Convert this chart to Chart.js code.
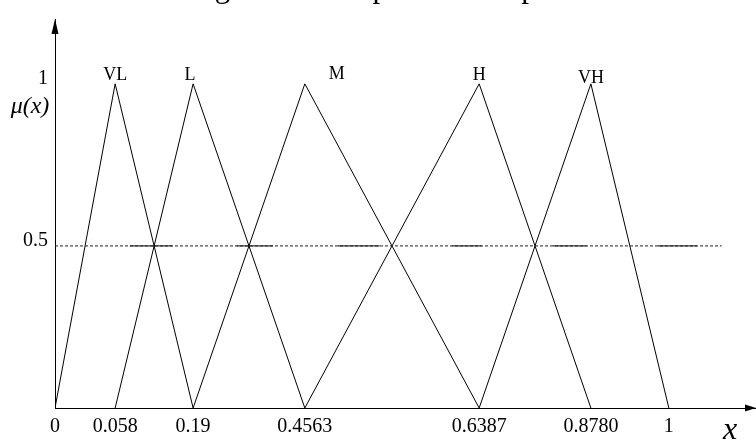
<!DOCTYPE html>
<html>
<head>
<meta charset="utf-8">
<script src="https://cdn.jsdelivr.net/npm/chart.js@4/dist/chart.umd.min.js"></script>
<style>
  html, body { margin: 0; padding: 0; background: #fff; }
  #chart { display: block; }
</style>
</head>
<body>
<canvas id="chart" width="756" height="441"></canvas>
<script>
// --- data ---
// axis units: tick positions along x (the printed axis is not to scale)
const xTickPos = [0, 0.098, 0.225, 0.407, 0.691, 0.873, 1];
const xTickLabels = ['0', '0.058', '0.19', '0.4563', '0.6387', '0.8780', '1'];
const yTickVals = [0.5, 1];

const setNames = ['VL', 'L', 'M', 'H', 'VH'];
const setLeft  = [0,     0.098, 0.225, 0.407, 0.691];
const setPeak  = [0.098, 0.225, 0.407, 0.691, 0.873];
const setRight = [0.225, 0.407, 0.691, 0.873, 1];

const halfLevel = 0.5;
const halfLineEnd = 1.086;
// short solid pieces laid over the dashed 0.5 line
const solidPieces = [[0.122, 0.191], [0.296, 0.355], [0.461, 0.529], [0.647, 0.695], [0.811, 0.866], [0.982, 1.046]];

const SERIF = "'Liberation Serif', 'Times New Roman', serif";

// --- datasets ---
const triangles = setNames.map((name, i) => ({
    label: name,
    data: [
        { x: setLeft[i], y: 0 },
        { x: setPeak[i], y: 1 },
        { x: setRight[i], y: 0 }
    ],
    borderColor: '#000',
    borderWidth: 1,
    pointRadius: 0,
    tension: 0,
    fill: false
}));

const dashedHalf = {
    label: 'half',
    data: [{ x: 0, y: halfLevel }, { x: halfLineEnd, y: halfLevel }],
    borderColor: '#222',
    borderWidth: 1,
    borderDash: [3, 2],
    pointRadius: 0,
    fill: false
};

const solidHalf = {
    label: 'halfSolid',
    data: solidPieces.flatMap(p => [{ x: p[0], y: halfLevel }, { x: p[1], y: halfLevel }, { x: p[1], y: null }]),
    borderColor: '#000',
    borderWidth: 1,
    pointRadius: 0,
    spanGaps: false,
    fill: false
};

// --- extra drawing: arrows, set names, axis symbols, cut title ---
const decorPlugin = {
    id: 'decor',
    afterDraw(chart) {
        const { ctx, chartArea, scales } = chart;
        const xs = scales.x, ys = scales.y;
        ctx.save();
        ctx.fillStyle = '#000';

        // arrow on y axis
        const ax = chartArea.left;
        ctx.beginPath();
        ctx.moveTo(ax, chartArea.top);
        ctx.lineTo(ax - 3.5, chartArea.top + 15);
        ctx.lineTo(ax + 3.5, chartArea.top + 15);
        ctx.closePath();
        ctx.fill();

        // arrow on x axis
        const ay = chartArea.bottom;
        ctx.beginPath();
        ctx.moveTo(chartArea.right, ay);
        ctx.lineTo(chartArea.right - 11, ay - 3.5);
        ctx.lineTo(chartArea.right - 11, ay + 3.5);
        ctx.closePath();
        ctx.fill();

        // set names above the peaks
        const nudge = { VL: [0, -4], L: [-3, -4], M: [32, -5], H: [0, -4], VH: [0, -1] };
        ctx.font = '18px ' + SERIF;
        ctx.textAlign = 'center';
        ctx.textBaseline = 'alphabetic';
        setNames.forEach((name, i) => {
            const px = xs.getPixelForValue(setPeak[i]);
            const py = ys.getPixelForValue(1);
            ctx.fillText(name, px + nudge[name][0], py + nudge[name][1]);
        });

        // mu(x)
        ctx.font = 'italic 24px ' + SERIF;
        ctx.textAlign = 'center';
        ctx.textBaseline = 'middle';
        ctx.fillText('\u03BC(x)', 30, 107);

        // x symbol
        ctx.font = 'italic 32px ' + SERIF;
        ctx.fillText('x', 730, 431);

        // caption cut by the top edge
        ctx.font = '31px ' + SERIF;
        ctx.textAlign = 'left';
        ctx.textBaseline = 'alphabetic';
        ctx.fillText('Figure 3 The optimization process', 189, -3);

        ctx.restore();
    }
};

new Chart(document.getElementById('chart'), {
    type: 'line',
    data: { datasets: [dashedHalf, solidHalf, ...triangles] },
    options: {
        responsive: false,
        animation: false,
        devicePixelRatio: 1,
        layout: { padding: { top: 16, right: 0, left: 0, bottom: 0 } },
        plugins: {
            legend: { display: false },
            tooltip: { enabled: false }
        },
        scales: {
            x: {
                type: 'linear',
                min: 0,
                max: 1.142,
                grid: { display: false, drawTicks: false },
                border: { display: true, color: '#000', width: 1 },
                afterBuildTicks: (scale) => { scale.ticks = xTickPos.map(v => ({ value: v })); },
                afterFit: (scale) => { scale.height = 33; },
                ticks: {
                    autoSkip: false,
                    maxRotation: 0,
                    padding: 7,
                    color: '#000',
                    font: { family: SERIF, size: 20 },
                    callback: (value, index) => xTickLabels[index]
                }
            },
            y: {
                type: 'linear',
                min: 0,
                max: 1.2,
                grid: { display: false, drawTicks: false },
                border: { display: true, color: '#000', width: 1 },
                afterBuildTicks: (scale) => { scale.ticks = yTickVals.map(v => ({ value: v })); },
                afterFit: (scale) => { scale.width = 55; },
                ticks: {
                    autoSkip: false,
                    padding: 7,
                    labelOffset: -5,
                    color: '#000',
                    font: { family: SERIF, size: 20 },
                    callback: (value) => String(value)
                }
            }
        }
    },
    plugins: [decorPlugin]
});
</script>
</body>
</html>
